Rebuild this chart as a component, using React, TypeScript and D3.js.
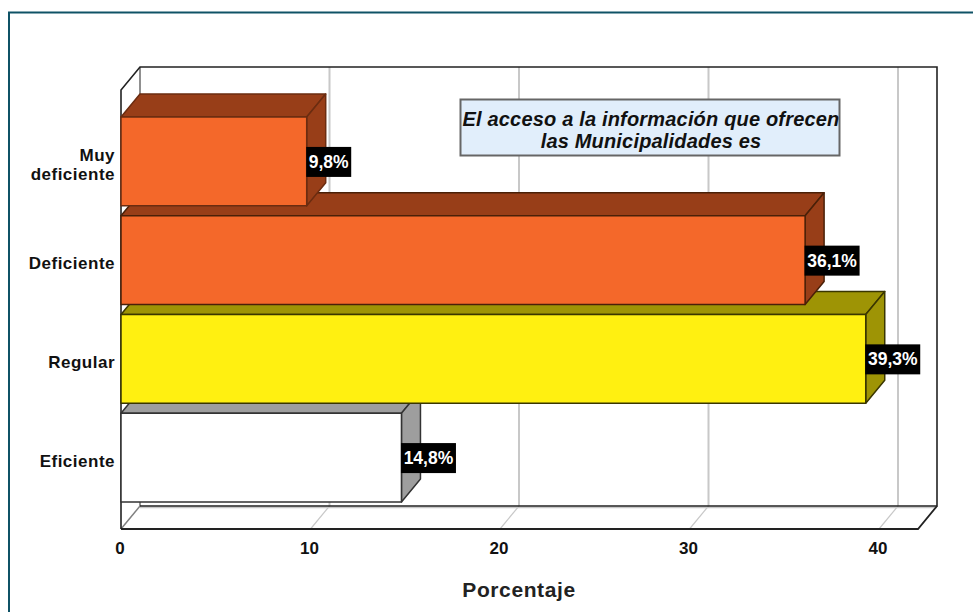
import React from "react";
import * as d3 from "d3";

const categories = ["Muy deficiente", "Deficiente", "Regular", "Eficiente"];
const categoryLines = [["Muy", "deficiente"], ["Deficiente"], ["Regular"], ["Eficiente"]];
const values = [9.8, 36.1, 39.3, 14.8];
const valueLabels = ["9,8%", "36,1%", "39,3%", "14,8%"];
const frontColors = ["#f4682a", "#f4682a", "#fff011", "#ffffff"];
const sideColors = ["#983e18", "#983e18", "#9e9405", "#9e9e9e"];
const edgeColors = ["#6b2c10", "#4a2008", "#3a3600", "#333333"];
const ticks = [0, 10, 20, 30, 40];
const xTitle = "Porcentaje";
const noteLines = ["El acceso a la información que ofrecen", "las Municipalidades es"];

const FONT = "'Liberation Sans', Arial, sans-serif";
const DX = 19;
const DY = -23;

const x = d3.scaleLinear().domain([0, 40]).range([121, 879]);
const y = d3.scaleBand<string>().domain(categories).range([117, 502]).paddingInner(0.1).paddingOuter(0);

const floorY = 529;
const topFront = 90;
const rightFront = 918;

export default function App() {
  const pts = (p: [number, number][]) => p.map((d) => d.join(",")).join(" ");
  const bw = y.bandwidth();
  const order = d3.range(categories.length).reverse();
  return (
    <svg
      width={973}
      height={612}
      viewBox="0 0 973 612"
      style={{ position: "fixed", left: 0, top: 0, background: "#fff" }}
      fontFamily={FONT}
    >
      {/* outer frame */}
      <path d="M9,612 V12.5 H973" fill="none" stroke="#0f5266" strokeWidth={2} />

      {/* gridlines */}
      {ticks.slice(1).map((t) => (
        <polyline
          key={t}
          points={pts([
            [x(t) + DX, floorY + DY],
            [x(t) + DX, topFront + DY],
          ])}
          fill="none"
          stroke="#c8c8c8"
          strokeWidth={2}
        />
      ))}
      {ticks.slice(1).map((t) => (
        <line key={t} x1={x(t)} y1={floorY} x2={x(t) + DX} y2={floorY + DY} stroke="#c8c8c8" strokeWidth={1.2} />
      ))}
      <line x1={x(0)} y1={floorY} x2={x(0) + DX} y2={floorY + DY} stroke="#808080" strokeWidth={1.5} />
      <line x1={x(0) + DX} y1={floorY + DY} x2={x(0) + DX} y2={topFront + DY} stroke="#909090" strokeWidth={2} />
      <line x1={x(0) + DX} y1={floorY + DY + 1.5} x2={rightFront + DX} y2={floorY + DY + 1.5} stroke="#c8c8c8" strokeWidth={1.5} />

      {/* walls */}
      <polyline
        points={pts([
          [x(0), floorY],
          [x(0), topFront],
          [x(0) + DX, topFront + DY],
          [rightFront + DX, topFront + DY],
          [rightFront + DX, floorY + DY],
          [x(0) + DX, floorY + DY],
        ])}
        fill="none"
        stroke="#222"
        strokeWidth={1.6}
      />
      <polyline
        points={pts([
          [x(0), floorY],
          [rightFront, floorY],
          [rightFront + DX, floorY + DY],
        ])}
        fill="none"
        stroke="#222"
        strokeWidth={1.8}
      />

      {/* annotation */}
      <rect x={460.5} y={99.5} width={379} height={56} fill="#e1eefb" stroke="#666" strokeWidth={2} />
      {noteLines.map((l, i) => (
        <text
          key={l}
          x={651}
          y={126 + i * 22}
          textAnchor="middle"
          fontSize={20}
          fontWeight="bold"
          fontStyle="italic"
          fill="#111"
          letterSpacing={0.18}
        >
          {l}
        </text>
      ))}

      {/* bars: nearest the floor first, so the upper bars cover the lower top faces */}
      {order.map((i) => {
        const c = categories[i];
        const x0 = x(0);
        const x1 = x(values[i]);
        const y0 = y(c)!;
        const y1 = y0 + bw;
        return (
          <g key={c} stroke={edgeColors[i]} strokeWidth={1.5} strokeLinejoin="round">
            <polygon
              points={pts([
                [x0, y0],
                [x0 + DX, y0 + DY],
                [x1 + DX, y0 + DY],
                [x1, y0],
              ])}
              fill={sideColors[i]}
            />
            <polygon
              points={pts([
                [x1, y0],
                [x1 + DX, y0 + DY],
                [x1 + DX, y1 + DY],
                [x1, y1],
              ])}
              fill={sideColors[i]}
            />
            <rect x={x0} y={y0} width={x1 - x0} height={bw} fill={frontColors[i]} />
          </g>
        );
      })}

      {/* value labels */}
      {categories.map((c, i) => {
        const x1 = x(values[i]);
        const cy = y(c)! + bw / 2 + 0.5;
        const w = valueLabels[i].length === 4 ? 45 : 55;
        return (
          <g key={c}>
            <rect x={x1 - 0.5} y={cy - 15} width={w} height={30} fill="#000" />
            <text
              x={x1 - 0.5 + w / 2}
              y={cy + 6}
              textAnchor="middle"
              fontSize={17.5}
              fontWeight="bold"
              fill="#fff"
            >
              {valueLabels[i]}
            </text>
          </g>
        );
      })}

      {/* category labels */}
      {categories.map((c, i) => {
        const lines = categoryLines[i];
        const cy = y(c)! + bw / 2;
        return (
          <text key={c} textAnchor="end" fontSize={17} fontWeight="bold" fill="#111" letterSpacing={0.5}>
            {lines.map((l, j) => (
              <tspan key={l} x={115} y={cy + 9 + (j - (lines.length - 1) / 2) * 19}>
                {l}
              </tspan>
            ))}
          </text>
        );
      })}

      {/* x ticks */}
      {ticks.map((t) => (
        <text key={t} x={x(t) - 1} y={554} textAnchor="middle" fontSize={17} fontWeight="bold" fill="#111">
          {t}
        </text>
      ))}
      <text x={519} y={597} textAnchor="middle" fontSize={21} fontWeight="bold" fill="#222" letterSpacing={0.6}>
        {xTitle}
      </text>
    </svg>
  );
}
